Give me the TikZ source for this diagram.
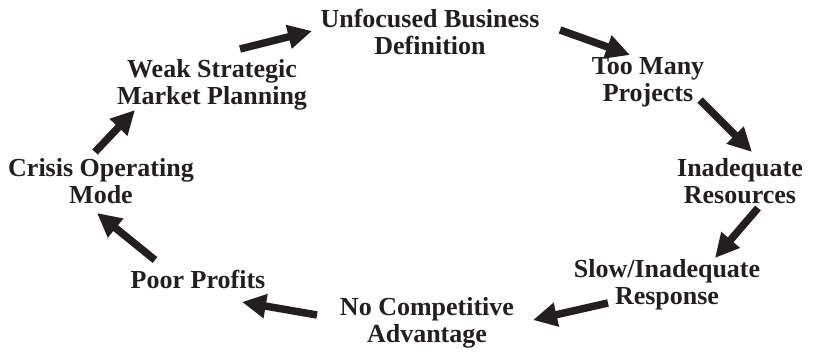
\documentclass[tikz,border=0pt]{standalone}
\usepackage{fontspec}
\setmainfont{Liberation Serif}
\usetikzlibrary{arrows.meta}
\definecolor{ink}{HTML}{231F20}
\tikzset{
  stage/.style={font=\fontsize{26}{27}\selectfont\bfseries, text=ink, align=center, inner sep=0pt},
  flow/.style={draw=ink, line width=7.5pt, -{Triangle[length=24pt,width=23pt]}}
}
\begin{document}
\begin{tikzpicture}[x=1pt,y=-1pt]
  \useasboundingbox (0,0) rectangle (824,355);
  % stages of the cycle
  \node[stage] (unf)  at (430,32)  {Unfocused Business\\Definition};
  \node[stage] (many) at (648,82)  {Too Many\\Projects};
  \node[stage] (res)  at (740,181) {Inadequate\\Resources};
  \node[stage] (slow) at (667,285) {Slow/Inadequate\\Response};
  \node[stage] (comp) at (427,323) {No Competitive\\Advantage};
  \node[stage] (poor) at (198,279) {Poor Profits};
  \node[stage] (cris) at (101,181) {Crisis Operating\\Mode};
  \node[stage] (weak) at (212,85)  {Weak Strategic\\Market Planning};
  % arrow ends
  \coordinate (w2u-s) at (240,49);  \coordinate (w2u-e) at (312,31);
  \coordinate (u2m-s) at (560,30);  \coordinate (u2m-e) at (630,55);
  \coordinate (m2r-s) at (700,100); \coordinate (m2r-e) at (752,152);
  \coordinate (r2s-s) at (758,208); \coordinate (r2s-e) at (715,258);
  \coordinate (s2c-s) at (608,303); \coordinate (s2c-e) at (533,320);
  \coordinate (c2p-s) at (317,315); \coordinate (c2p-e) at (242,302);
  \coordinate (p2c-s) at (155,260); \coordinate (p2c-e) at (97,213);
  \coordinate (c2w-s) at (95,152);  \coordinate (c2w-e) at (135,110);
  % cycle arrows
  \draw[flow] (w2u-s) -- (w2u-e);
  \draw[flow] (u2m-s) -- (u2m-e);
  \draw[flow] (m2r-s) -- (m2r-e);
  \draw[flow] (r2s-s) -- (r2s-e);
  \draw[flow] (s2c-s) -- (s2c-e);
  \draw[flow] (c2p-s) -- (c2p-e);
  \draw[flow] (p2c-s) -- (p2c-e);
  \draw[flow] (c2w-s) -- (c2w-e);
\end{tikzpicture}
\end{document}
